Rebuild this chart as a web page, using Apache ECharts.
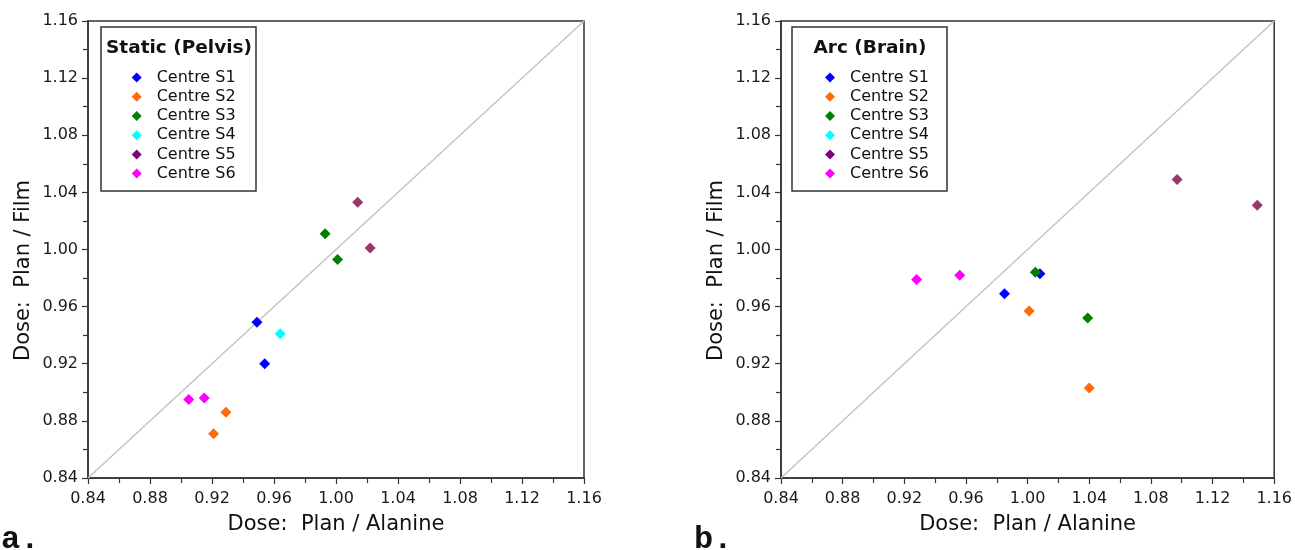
<!DOCTYPE html>
<html>
<head>
<meta charset="utf-8">
<script src="https://cdn.jsdelivr.net/npm/echarts@6/dist/echarts.min.js"></script>
<style>
  html, body { margin: 0; padding: 0; background: #fff; }
  #chart { width: 1295px; height: 550px; }
</style>
</head>
<body>
<div id="chart"></div>
<script>
// centres and their colours
let centres = ['Centre S1', 'Centre S2', 'Centre S3', 'Centre S4', 'Centre S5', 'Centre S6']
let pointColors = ['#0000ff', '#ff6a0a', '#008000', '#00ffff', '#983768', '#ff00ff']
let legendColors = ['#0000ff', '#ff6a0a', '#008000', '#00ffff', '#800080', '#ff00ff']

// axis ticks (both axes, both panels)
let tickMin = 0.84
let tickMax = 1.16
let tickStep = 0.04
let identityLine = [0.84, 1.16]

// a. Static (Pelvis): [plan/alanine, plan/film]
let staticS1 = [[0.949, 0.949], [0.954, 0.920]]
let staticS2 = [[0.929, 0.886], [0.921, 0.871]]
let staticS3 = [[0.993, 1.011], [1.001, 0.993]]
let staticS4 = [[0.964, 0.941]]
let staticS5 = [[1.014, 1.033], [1.022, 1.001]]
let staticS6 = [[0.905, 0.895], [0.915, 0.896]]

// b. Arc (Brain)
let arcS1 = [[0.985, 0.969], [1.008, 0.983]]
let arcS2 = [[1.001, 0.957], [1.040, 0.903]]
let arcS3 = [[1.005, 0.984], [1.039, 0.952]]
let arcS4 = []
let arcS5 = [[1.097, 1.049], [1.149, 1.031]]
let arcS6 = [[0.928, 0.979], [0.956, 0.982]]

let staticData = [staticS1, staticS2, staticS3, staticS4, staticS5, staticS6]
let arcData = [arcS1, arcS2, arcS3, arcS4, arcS5, arcS6]

const font = 'DejaVu Sans'
const axisColor = '#333'

function makeAxis(index, isX) {
  return {
    gridIndex: index,
    type: 'value',
    min: tickMin,
    max: tickMax,
    interval: tickStep,
    name: isX ? 'Dose:  Plan / Alanine' : 'Dose:  Plan / Film',
    nameLocation: 'middle',
    nameGap: isX ? 36 : 54,
    nameTextStyle: {
      fontFamily: font,
      fontSize: 21,
      color: '#111',
      padding: isX ? 0 : [0, 42, 0, 0],
    },
    axisLine: { lineStyle: { color: axisColor, width: 1.5 } },
    axisTick: { show: true, length: 6, lineStyle: { color: axisColor, width: 1.2 } },
    minorTick: { show: true, splitNumber: 2, length: 5, lineStyle: { color: axisColor, width: 1.2 } },
    splitLine: { show: false },
    axisLabel: {
      fontFamily: font,
      fontSize: 16,
      color: '#1a1a1a',
      margin: isX ? 13 : 10,
      formatter: (v) => v.toFixed(2),
    },
  }
}

function makeSeries(index, data) {
  let list = [{
    type: 'line',
    xAxisIndex: index,
    yAxisIndex: index,
    data: [[identityLine[0], identityLine[0]], [identityLine[1], identityLine[1]]],
    symbol: 'none',
    silent: true,
    lineStyle: { color: '#c4c4c4', width: 1.5 },
    z: 1,
  }]
  centres.forEach((name, i) => {
    list.push({
      name: name,
      type: 'scatter',
      xAxisIndex: index,
      yAxisIndex: index,
      symbol: 'diamond',
      symbolSize: 11,
      itemStyle: { color: pointColors[i], opacity: 1 },
      data: data[i],
      z: 3,
    })
  })
  return list
}

function makeLegend(left) {
  return {
    orient: 'vertical',
    left: left,
    top: 68,
    padding: 0,
    itemWidth: 10,
    itemHeight: 10,
    itemGap: 0,
    icon: 'diamond',
    selectedMode: false,
    z: 20,
    textStyle: { fontFamily: font, fontSize: 16, color: '#111', lineHeight: 19.2, padding: [0, 0, 0, 10] },
    data: centres.map((name, i) => ({ name: name, itemStyle: { color: legendColors[i] } })),
  }
}

function legendBox(x, y, title) {
  return [
    {
      type: 'rect',
      shape: { x: x, y: y, width: 155, height: 164 },
      style: { fill: 'none', stroke: axisColor, lineWidth: 1.5 },
      z: 10,
    },
    {
      type: 'text',
      x: x + 78,
      y: 48,
      style: {
        text: title,
        font: 'bold 18.5px "DejaVu Sans"',
        fill: '#111',
        align: 'center',
        verticalAlign: 'middle',
      },
      z: 11,
    },
  ]
}

let option = {
  backgroundColor: '#fff',
  animation: false,
  grid: [
    { left: 88, top: 21, width: 496, height: 457, show: true, borderColor: axisColor, borderWidth: 1.5, backgroundColor: 'transparent' },
    { left: 781, top: 21, width: 495, height: 457, show: true, borderColor: axisColor, borderWidth: 1.5, backgroundColor: 'transparent' },
  ],
  xAxis: [makeAxis(0, true), makeAxis(1, true)],
  yAxis: [makeAxis(0, false), makeAxis(1, false)],
  legend: [makeLegend(131.7), makeLegend(825)],
  graphic: [
    ...legendBox(101, 27, 'Static (Pelvis)'),
    ...legendBox(792, 27, 'Arc (Brain)'),
    {
      type: 'text', x: 1, y: 556,
      style: { text: 'a.', font: 'bold 32px "Liberation Mono"', fill: '#111', verticalAlign: 'bottom' },
      z: 12,
    },
    {
      type: 'text', x: 694, y: 556,
      style: { text: 'b.', font: 'bold 32px "Liberation Mono"', fill: '#111', verticalAlign: 'bottom' },
      z: 12,
    },
  ],
  series: [...makeSeries(0, staticData), ...makeSeries(1, arcData)],
}

let chart = echarts.init(document.getElementById('chart'))
chart.setOption(option)
</script>
</body>
</html>
